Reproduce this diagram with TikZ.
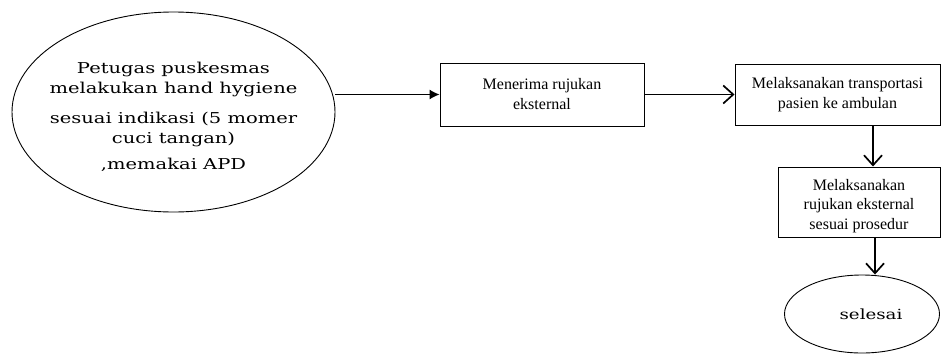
\documentclass[tikz,border=0pt]{standalone}
\usepackage{fontspec}
\setmainfont{Liberation Serif}
\newfontfamily\slabfont[FakeStretch=1.3]{DejaVu Serif}
\usetikzlibrary{shapes.geometric,arrows.meta}
\begin{document}
\begin{tikzpicture}[x=1pt,y=-1pt,
 boxnode/.style={draw, line width=1pt, rectangle, inner sep=0pt, align=center, font=\fontsize{16}{20}\selectfont},
 ovalnode/.style={draw, line width=0.9pt, ellipse, inner sep=0pt, align=center},
 thinarrow/.style={line width=1pt, -{Latex[length=10pt,width=10pt]}},
 thickarrow/.style={line width=1.7pt, -{Straight Barb[length=10pt,width=18pt]}}]
\useasboundingbox (0,0) rectangle (941,354);
\node[ovalnode, inner xsep=-20pt, minimum width=323pt, minimum height=200pt, font=\slabfont\fontsize{15}{20}\selectfont] (e1) at (173.5,112)
 {\rule{0pt}{21pt}Petugas puskesmas\\ melakukan hand hygiene\\[10pt] sesuai indikasi (5 momer\\ cuci tangan)\\[6pt] ,memakai APD};
\node[boxnode, minimum width=204pt, minimum height=63pt] (b2) at (542,94.5) {Menerima rujukan\\ eksternal};
\node[boxnode, minimum width=205pt, minimum height=61pt] (b3) at (837.5,94.5) {Melaksanakan transportasi\\ pasien ke ambulan};
\node[boxnode, minimum width=162pt, minimum height=70pt, font=\fontsize{16}{19.5}\selectfont] (b4) at (859,202) {\rule{0pt}{19pt}Melaksanakan\\ rujukan eksternal\\ sesuai prosedur};
\node[ovalnode, minimum width=155pt, minimum height=78pt, font=\slabfont\fontsize{14}{20}\selectfont] (e2) at (862,314) {\hspace*{18pt}selesai};
\draw[thinarrow] (b2.west -| e1.east) -- (b2.west);
\draw[thickarrow] (b2.east) -- (b3.west);
\draw[thickarrow] ([xshift=35.5pt]b3.south) -- ([xshift=14pt]b4.north);
\draw[thickarrow] ([xshift=16pt]b4.south) -- ([xshift=13pt]e2.north);
\end{tikzpicture}
\end{document}
